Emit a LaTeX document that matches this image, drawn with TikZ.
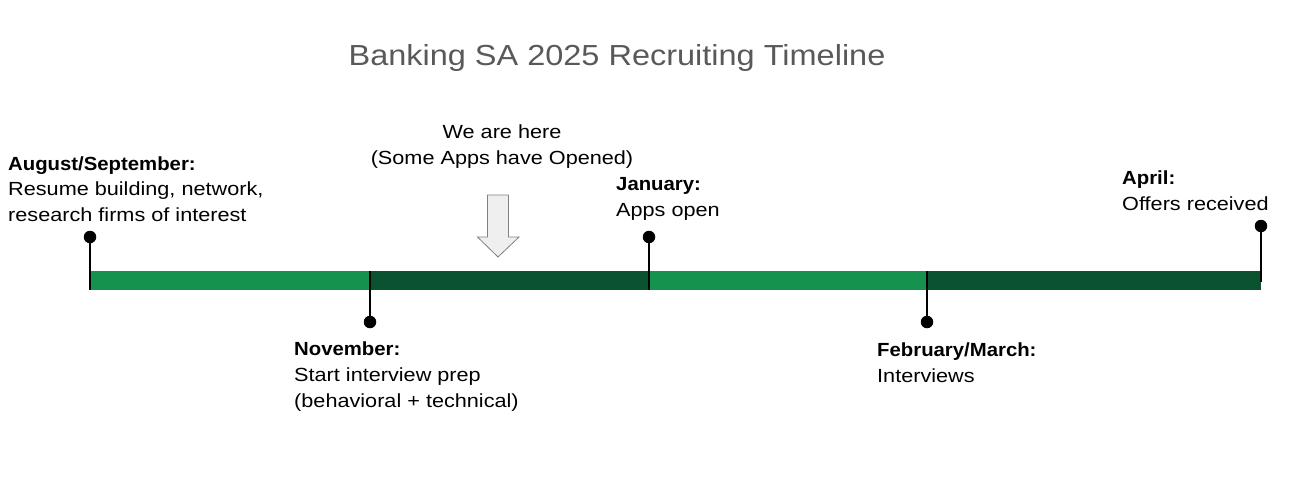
\documentclass[tikz,border=0pt]{standalone}
\usepackage{fontspec}
\setmainfont{Liberation Sans}
\newfontfamily\bodyfont[FakeStretch=1.14,BoldFeatures={FakeStretch=1.07}]{Liberation Sans}
\newfontfamily\titlefont[FakeStretch=1.12]{Liberation Sans}
\definecolor{lgreen}{HTML}{16924F}
\definecolor{dgreen}{HTML}{0B5330}
\definecolor{titlegray}{HTML}{595959}
\definecolor{arrowfill}{HTML}{EFEFEF}
\definecolor{arrowline}{HTML}{808080}
\begin{document}
\begin{tikzpicture}[x=1pt,y=-1pt,
  lbl/.style={anchor=base west,align=left,inner sep=0pt,font=\bodyfont\fontsize{19}{25.7}\selectfont},
  tick/.style={draw=black,line width=1.2pt},
  dotm/.style={circle,fill=black,inner sep=0pt,minimum size=12.5pt}]
\useasboundingbox (0,0) rectangle (1292,488);
\node[text=titlegray,font=\titlefont\fontsize{29}{34}\selectfont,anchor=base] (title) at (617,65.7) {Banking SA 2025 Recruiting Timeline};
% bar
\fill[lgreen] (90,271) rectangle (370,290);
\fill[dgreen] (370,271) rectangle (649,290);
\fill[lgreen] (649,271) rectangle (927,290);
\fill[dgreen] (927,271) rectangle (1261,290);
% markers
\node[dotm] (d1) at (90,237) {};
\coordinate (e1) at (90,290);
\draw[tick] (d1.center) -- (e1);
\node[dotm] (d2) at (370,322) {};
\coordinate (e2) at (370,271);
\draw[tick] (d2.center) -- (e2);
\node[dotm] (d3) at (649,237) {};
\coordinate (e3) at (649,290);
\draw[tick] (d3.center) -- (e3);
\node[dotm] (d4) at (927,322) {};
\coordinate (e4) at (927,271);
\draw[tick] (d4.center) -- (e4);
\node[dotm] (d5) at (1261,226) {};
\coordinate (e5) at (1261,282);
\draw[tick] (d5.center) -- (e5);
% labels (anchored at the baseline of the last line)
\node[lbl] (l1) at (8,221.5) {\textbf{August/September:}\\Resume building, network,\\research firms of interest};
\node[lbl] (l2) at (294,407) {\textbf{November:}\\Start interview prep\\(behavioral + technical)};
\node[lbl] (l3) at (616,216) {\textbf{January:}\\Apps open};
\node[lbl] (l4) at (877,382) {\textbf{February/March:}\\Interviews};
\node[lbl] (l5) at (1122,210) {\textbf{April:}\\Offers received};
\node[align=center,inner sep=0pt,font=\bodyfont\fontsize{19}{25.7}\selectfont,anchor=base] (here) at (502,164) {We are here\\(Some Apps have Opened)};
% block arrow
\draw[fill=arrowfill,draw=arrowline,line width=0.8pt,line join=miter]
  (487.5,195) -- (508.5,195) -- (508.5,237) -- (519,237) -- (498,257) -- (477.5,237) -- (487.5,237) -- cycle;
\end{tikzpicture}
\end{document}
